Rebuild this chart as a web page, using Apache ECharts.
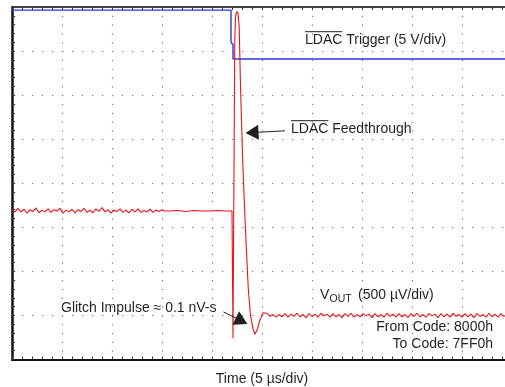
<!DOCTYPE html>
<html>
<head>
<meta charset="utf-8">
<title>LDAC Feedthrough</title>
<script src="https://cdn.jsdelivr.net/npm/echarts/dist/echarts.min.js"></script>
<style>
  html, body { margin: 0; padding: 0; background: #fff; }
  #scope { width: 505px; height: 387px; }
</style>
</head>
<body>
<div id="scope"></div>
<script>
// time in us (5 us/div), amplitude in scope divisions (8 div tall)
var ldacTrigger = [[0, 7.93], [21.9, 7.93], [21.9, 7.2], [22.1, 7.15], [22.1, 6.82], [50, 6.82]];

// VOUT before the update (noisy part)
var voutBefore = [
  [0.0, 3.40], [0.3, 3.35], [0.6, 3.43], [0.9, 3.35], [1.2, 3.41], [1.5, 3.32], [1.8, 3.40],
  [2.1, 3.36], [2.4, 3.44], [2.7, 3.33], [3.0, 3.39], [3.3, 3.35], [3.6, 3.42], [3.9, 3.34],
  [4.2, 3.40], [4.5, 3.37], [4.8, 3.43], [5.1, 3.32], [5.4, 3.39], [5.7, 3.35], [6.0, 3.41],
  [6.3, 3.33], [6.6, 3.40], [6.9, 3.36], [7.2, 3.43], [7.5, 3.34], [7.8, 3.39], [8.1, 3.33],
  [8.4, 3.42], [8.7, 3.36], [9.0, 3.45], [9.3, 3.35], [9.6, 3.40], [9.9, 3.32], [10.2, 3.39],
  [10.5, 3.36], [10.8, 3.42], [11.1, 3.34], [11.4, 3.39], [11.7, 3.33], [12.0, 3.41], [12.3, 3.35],
  [12.6, 3.42], [12.9, 3.34], [13.2, 3.38], [13.5, 3.35], [13.8, 3.41], [14.1, 3.34], [14.4, 3.39],
  [14.7, 3.36], [15.0, 3.40], [15.3, 3.37],
  // quieter stretch
  [15.8, 3.37], [16.6, 3.38], [17.4, 3.36], [18.2, 3.38], [19.0, 3.37], [19.8, 3.37],
  [20.6, 3.38], [21.4, 3.37], [22.0, 3.37]
];

// the feedthrough glitch and ringing
var voutGlitch = [
  [22.04, 3.37], [22.1, 0.48], [22.28, 7.3], [22.36, 7.8], [22.48, 7.9], [22.6, 7.85],
  [22.72, 7.55], [22.85, 6.2], [23.05, 4.65], [23.2, 3.74], [23.4, 2.7], [23.63, 1.6],
  [23.85, 1.0], [24.1, 0.7], [24.3, 0.57], [24.55, 0.7], [24.8, 0.9], [25.1, 1.06],
  [25.3, 1.1], [25.5, 1.05], [25.8, 0.98], [26.1, 1.02], [26.4, 0.96], [26.7, 1.02]
];

// settled VOUT after the glitch
var voutAfter = [
  [27.0, 0.97], [27.3, 1.04], [27.6, 0.96], [27.9, 1.03], [28.2, 0.98], [28.5, 1.05], [28.8, 0.97],
  [29.1, 1.02], [29.4, 0.95], [29.7, 1.04], [30.0, 0.98], [30.3, 1.03], [30.6, 0.96], [30.9, 1.05],
  [31.2, 0.99], [31.5, 1.03], [31.8, 0.96], [32.1, 1.04], [32.4, 0.97], [32.7, 1.02], [33.0, 0.95],
  [33.3, 1.04], [33.6, 0.98], [33.9, 1.05], [34.2, 0.96], [34.5, 1.02], [34.8, 0.97], [35.1, 1.04],
  [35.4, 0.99], [35.7, 1.03], [36.0, 0.95], [36.3, 1.04], [36.6, 0.97], [36.9, 1.02], [37.2, 0.96],
  [37.5, 1.05], [37.8, 0.98], [38.1, 1.03], [38.4, 0.96], [38.7, 1.04], [39.0, 0.97], [39.3, 1.02],
  [39.6, 0.95], [39.9, 1.04], [40.2, 0.98], [40.5, 1.05], [40.8, 0.97], [41.1, 1.02], [41.4, 0.96],
  [41.7, 1.04], [42.0, 0.99], [42.3, 1.03], [42.6, 0.95], [42.9, 1.04], [43.2, 0.97], [43.5, 1.03],
  [43.8, 0.96], [44.1, 1.05], [44.4, 0.98], [44.7, 1.02], [45.0, 0.96], [45.3, 1.04], [45.6, 0.97],
  [45.9, 1.03], [46.2, 0.95], [46.5, 1.04], [46.8, 0.98], [47.1, 1.02], [47.4, 0.96], [47.7, 1.05],
  [48.0, 0.97], [48.3, 1.03], [48.6, 0.96], [48.9, 1.04], [49.2, 0.98], [49.5, 1.03], [49.8, 0.97],
  [50.0, 1.01]
];

// annotation arrows: [from, to] in (us, div)
var feedthroughArrow = [[27.3, 5.19], [24.0, 5.15]];
var glitchArrow = [[21.15, 1.08], [22.96, 0.874]];

var chartDom = document.getElementById('scope');
var myChart = echarts.init(chartDom);
var option;

var FONT = '"Liberation Sans", Arial, Helvetica, sans-serif';
var TXT = '#231f20';

var ctx = document.createElement('canvas').getContext('2d');
ctx.font = '14px ' + FONT;
var ldacW = ctx.measureText('LDAC').width;

function txt(x, y, s, size, align) {
  return {
    type: 'text', x: x, y: y, silent: true,
    style: {
      text: s, font: size + 'px ' + FONT, fill: TXT,
      align: align || 'left', verticalAlign: 'middle'
    }
  };
}
function overline(x, y, w) {
  return {
    type: 'line', silent: true,
    shape: { x1: x, y1: y, x2: x + w, y2: y },
    style: { stroke: TXT, lineWidth: 1 }
  };
}

var tickStyle = { color: '#333', width: 1 };

option = {
  animation: false,
  grid: { left: 12, top: 7, right: -7, bottom: 27.5, outerBoundsMode: 'none', containLabel: false },
  xAxis: [
    {
      type: 'value', min: 0, max: 50, interval: 5, position: 'bottom',
      name: 'Time (5 µs/div)', nameLocation: 'middle', nameGap: 13,
      nameTextStyle: { fontSize: 14, color: TXT, fontFamily: FONT },
      axisLine: { show: true, onZero: false, lineStyle: { color: '#111', width: 2 } },
      axisTick: { show: true, inside: true, length: 3, lineStyle: tickStyle },
      minorTick: { show: true, splitNumber: 5, length: 3, lineStyle: tickStyle },
      axisLabel: { show: false },
      splitLine: { show: true, lineStyle: { color: '#777', width: 1.2, type: [1.2, 7.61] } }
    },
    {
      type: 'value', min: 0, max: 50, interval: 5, position: 'top',
      axisLine: { show: true, onZero: false, lineStyle: { color: '#444', width: 2 } },
      axisTick: { show: true, inside: true, length: 3, lineStyle: tickStyle },
      minorTick: { show: true, splitNumber: 5, length: 3, lineStyle: tickStyle },
      axisLabel: { show: false },
      splitLine: { show: false }
    }
  ],
  yAxis: {
    type: 'value', min: 0, max: 8, interval: 1,
    axisLine: { show: true, onZero: false, lineStyle: { color: '#111', width: 2.5 } },
    axisTick: { show: true, inside: true, length: 3, lineStyle: tickStyle },
    minorTick: { show: true, splitNumber: 5, length: 3, lineStyle: tickStyle },
    axisLabel: { show: false },
    splitLine: { show: true, lineStyle: { color: '#777', width: 1.2, type: [1.2, 8.8] } }
  },
  series: [
    {
      name: 'LDAC Trigger', type: 'line', data: ldacTrigger,
      showSymbol: false, silent: true,
      lineStyle: { color: '#2a3ad8', width: 1.4 }
    },
    {
      name: 'VOUT', type: 'line',
      data: voutBefore.concat(voutGlitch, voutAfter),
      showSymbol: false, silent: true,
      lineStyle: { color: '#e8141c', width: 1.1 },
      markLine: {
        silent: true,
        symbol: ['none', 'triangle'],
        symbolSize: [15, 13],
        label: { show: false },
        lineStyle: { color: TXT, width: 1, type: 'solid' },
        data: [
          [{ coord: feedthroughArrow[0] }, { coord: feedthroughArrow[1] }],
          [{ coord: glitchArrow[0] }, { coord: glitchArrow[1] }]
        ]
      }
    }
  ],
  graphic: [
    txt(305, 39.7, 'LDAC Trigger (5 V/div)', 14),
    overline(305, 31.7, ldacW),
    txt(291, 129, 'LDAC Feedthrough', 14),
    overline(291, 120.7, ldacW),
    txt(61, 308, 'Glitch Impulse \u2248 0.1 nV-s', 14),
    txt(320, 295.5, 'V', 14),
    txt(329.5, 299.5, 'OUT', 10.5),
    txt(358, 295.5, '(500 µV/div)', 14),
    txt(493, 327, 'From Code: 8000h', 14, 'right'),
    txt(493, 344.3, 'To Code: 7FF0h', 14, 'right')
  ]
};

option && myChart.setOption(option);
</script>
</body>
</html>
